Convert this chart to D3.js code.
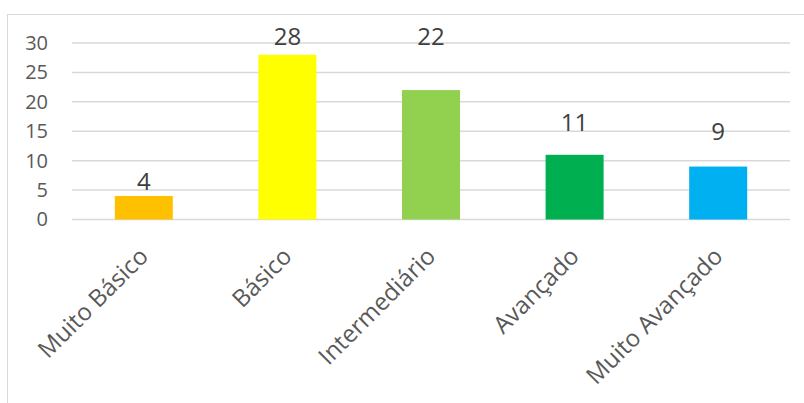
<!DOCTYPE html>
<html>
<head>
<meta charset="utf-8">
<script src="https://cdn.jsdelivr.net/npm/d3@7"></script>
<style>
  body { margin: 0; background: #fff; }
  text { font-family: "Open Sans", "Noto Sans", sans-serif; }
</style>
</head>
<body>
<div id="chart"></div>
<script>
// data
const categories = ["Muito Básico", "Básico", "Intermediário", "Avançado", "Muito Avançado"];
const values = [4, 28, 22, 11, 9];
const colors = ["#FFC000", "#FFFF00", "#92D050", "#00B050", "#00B0F0"];
const yTicks = [0, 5, 10, 15, 20, 25, 30];
// where each value label sits, in axis units (labels were moved by hand in the original)
const labelLevels = [5, 29.7, 29.7, 15, 13.5];

const width = 804, height = 403;

let svg = d3.select("#chart").append("svg")
    .attr("width", width)
    .attr("height", height);

// chart area border
svg.append("rect")
    .attr("x", 7.5)
    .attr("y", 14.5)
    .attr("width", 820)
    .attr("height", 420)
    .attr("fill", "none")
    .attr("stroke", "#d9d9d9")
    .attr("stroke-width", 1);

let x = d3.scaleBand()
    .domain(categories)
    .range([72, 790])
    .paddingInner(0.596)
    .paddingOuter(0.298);

let y = d3.scaleLinear()
    .domain([0, 30])
    .range([219.5, 43]);

// gridlines
svg.append("g")
    .selectAll("line")
    .data(yTicks)
    .enter()
    .append("line")
    .attr("x1", 72)
    .attr("x2", 790)
    .attr("y1", d => y(d))
    .attr("y2", d => y(d))
    .attr("stroke", "#d9d9d9")
    .attr("stroke-width", 1.5);

// y axis labels
let yAxis = svg.append("g")
    .attr("transform", "translate(58,0)")
    .call(d3.axisLeft(y).tickValues(yTicks).tickSize(0).tickPadding(10));
yAxis.select(".domain").remove();
yAxis.selectAll("text")
    .attr("font-size", 20)
    .attr("fill", "#595959")
    .style("font-family", "'Open Sans', sans-serif");

// bars
svg.append("g")
    .selectAll("rect")
    .data(values)
    .enter()
    .append("rect")
    .attr("x", (d, i) => x(categories[i]))
    .attr("y", d => y(d))
    .attr("width", x.bandwidth())
    .attr("height", d => y(0) - y(d))
    .attr("fill", (d, i) => colors[i]);

// value labels
svg.append("g")
    .selectAll("text")
    .data(values)
    .enter()
    .append("text")
    .attr("x", (d, i) => x(categories[i]) + x.bandwidth() / 2)
    .attr("y", (d, i) => y(labelLevels[i]))
    .attr("text-anchor", "middle")
    .attr("font-size", 24)
    .attr("fill", "#404040")
    .text(d => d);

// rotated category labels
svg.append("g")
    .selectAll("text")
    .data(categories)
    .enter()
    .append("text")
    .attr("transform", d => {
        let cx = x(d) + x.bandwidth() / 2;
        return "translate(" + (cx - 6) + ",246) rotate(-45)";
    })
    .attr("text-anchor", "end")
    .attr("dy", "0.7em")
    .attr("font-size", 24)
    .attr("fill", "#595959")
    .text(d => d);
</script>
</body>
</html>
